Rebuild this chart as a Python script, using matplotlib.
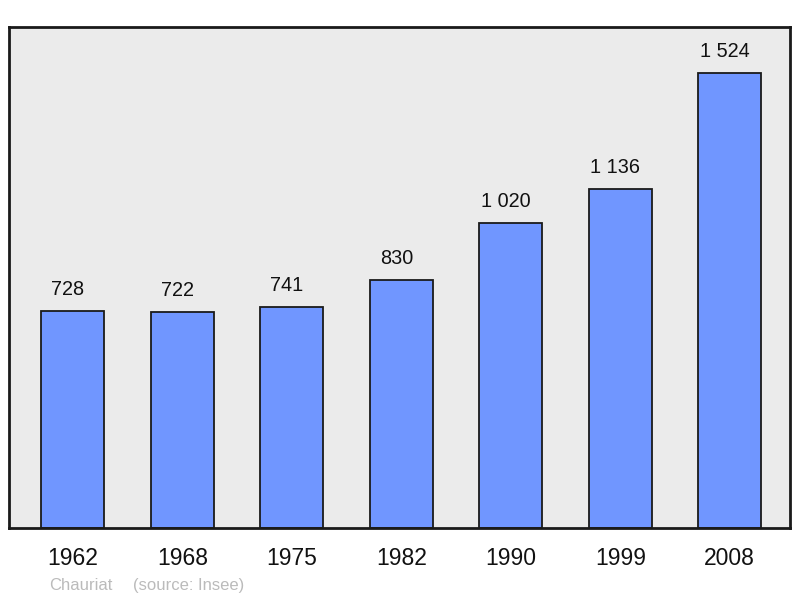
import matplotlib.pyplot as plt

plt.rcParams['font.family'] = ['Liberation Sans', 'DejaVu Sans']

years = ['1962', '1968', '1975', '1982', '1990', '1999', '2008']
population = [728, 722, 741, 830, 1020, 1136, 1524]
value_labels = ['728', '722', '741', '830', '1 020', '1 136', '1 524']

W, H = 800, 598
fig = plt.figure(figsize=(8, 5.98), dpi=100)
ax = fig.add_axes([9 / W, (H - 528) / H, 781 / W, 501 / H])
ax.set_facecolor('#ebebeb')

x = list(range(len(years)))
ax.bar(x, population, width=0.575, color='#7096ff', edgecolor='#1a1a1a',
       linewidth=1.3, zorder=2)

# value labels sit a bit left of the bar centre in the original
for xi, v, lab in zip(x, population, value_labels):
    ax.annotate(lab, (xi, v), xytext=(-5, 12), textcoords='offset pixels',
                ha='center', va='bottom', fontsize=14.3, color='#111111')

ax.set_xlim(-0.584, 6.55)
ax.set_ylim(0, 1678)
ax.set_xticks(x)
ax.set_xticklabels(years, fontsize=16.5, color='#111111')
ax.tick_params(axis='x', length=0, pad=14)
ax.set_yticks([])

for s in ax.spines.values():
    s.set_linewidth(2)
    s.set_color('#1a1a1a')

fig.text(49 / W, 1 - 590 / H, 'Chauriat', fontsize=12, color='#bbbbbb',
         ha='left', va='baseline')
fig.text(133 / W, 1 - 590 / H, '(source: Insee)', fontsize=12, color='#bbbbbb',
         ha='left', va='baseline')

fig.savefig('out.png', dpi=100)
